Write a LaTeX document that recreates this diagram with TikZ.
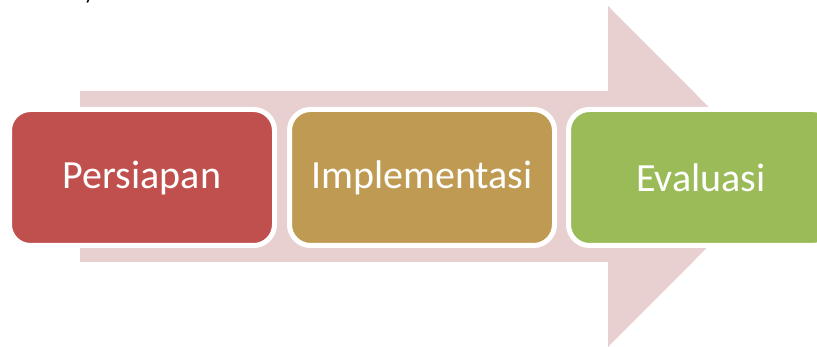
\documentclass[tikz,border=0pt]{standalone}
\usepackage{fontspec}
\setmainfont{Carlito}
\definecolor{arrowpink}{HTML}{E8CFD0}
\definecolor{cred}{HTML}{C0504D}
\definecolor{ctan}{HTML}{BF9A52}
\definecolor{cgreen}{HTML}{9BBB59}
\begin{document}
\begin{tikzpicture}[x=1pt,y=-1pt,
  stagebox/.style={draw=white, line width=5pt, rounded corners=21pt, inner sep=0pt,
    minimum width=265pt, minimum height=136pt, text=white,
    font=\fontsize{40}{44}\selectfont}]
\useasboundingbox (0,0) rectangle (817,347);
\begin{scope}
\clip (0,0) rectangle (817,347);
% big arrow
\fill[arrowpink] (80,91) -- (608,91) -- (608,6) -- (778,176.5) -- (608,347) -- (608,262) -- (80,262) -- cycle;
% stages
\node[stagebox, fill=cred] (p) at (142,177.5) {Persiapan};
\node[stagebox, fill=ctan] (i) at (422,177.5) {Implementasi};
\node[stagebox, fill=cgreen] (e) at (701,177.5) {Evaluasi};
% cut-off text above
\node[anchor=base west, inner sep=0pt, font=\fontsize{22}{24}\selectfont] (y) at (84,0) {y};
\end{scope}
\end{tikzpicture}
\end{document}
